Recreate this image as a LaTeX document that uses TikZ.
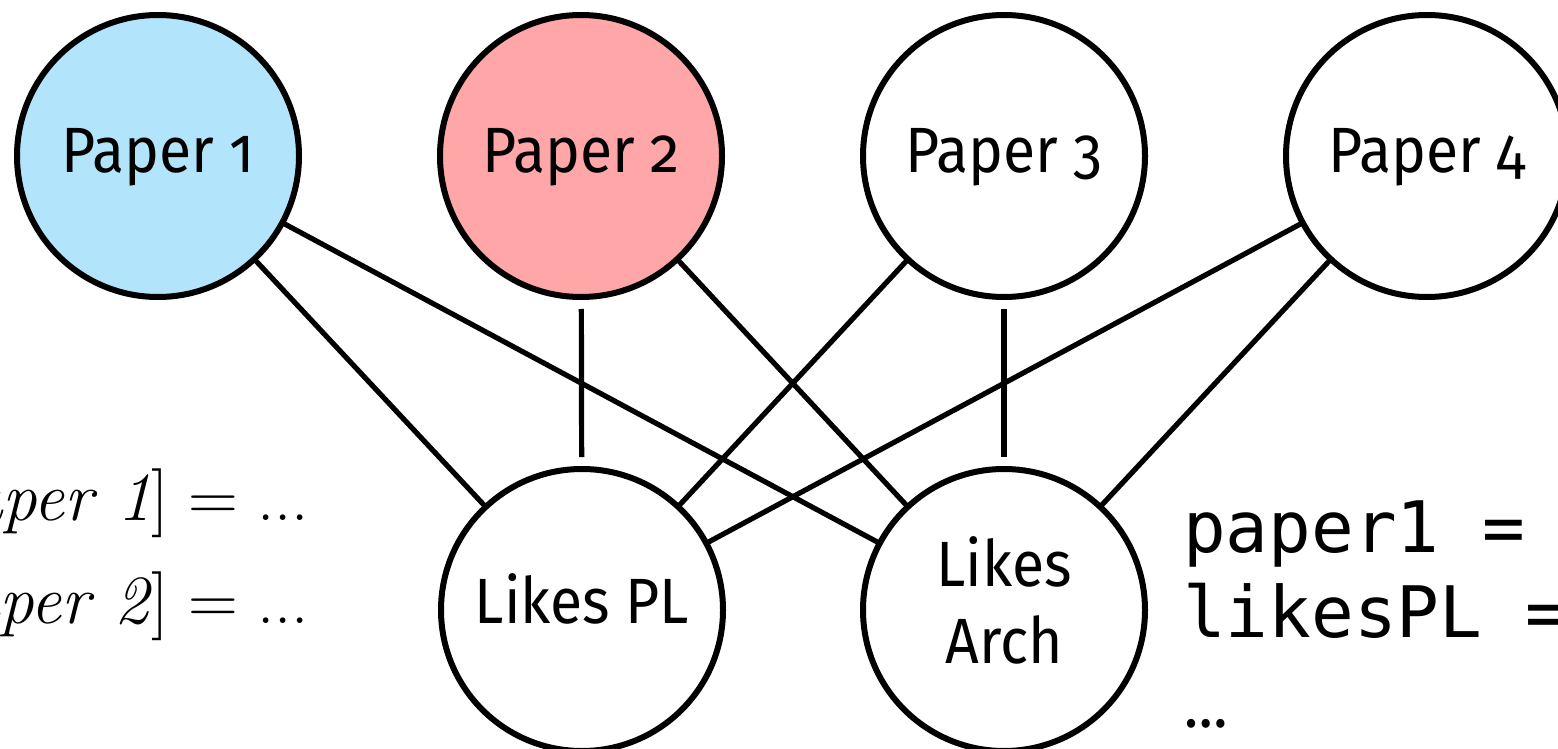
\documentclass[tikz,border=0pt]{standalone}
\usepackage{fontspec}
\setmainfont{Fira Sans}[Numbers=OldStyle, FakeStretch=0.92]
\newfontfamily\monofont{DejaVu Sans Mono}
\newfontfamily\lmfont{Latin Modern Roman}
\definecolor{pblue}{RGB}{178,229,252}
\definecolor{ppink}{RGB}{254,166,168}
\begin{document}
\begin{tikzpicture}[x=1pt,y=-1pt,
  circ/.style={circle, draw=black, line width=6pt, minimum size=282pt, inner sep=0pt, outer sep=0pt},
  lbl/.style={font=\fontsize{64}{77}\selectfont, inner sep=0pt, outer sep=0pt, anchor=base},
  edge/.style={line width=5.2pt},
  gapedge/.style={edge, shorten <=12pt, shorten >=12pt},
  mathlbl/.style={font=\lmfont\fontsize{69}{80}\selectfont, inner sep=0pt, anchor=base east},
  codelbl/.style={font=\monofont\fontsize{71}{85}\selectfont, inner sep=0pt, anchor=base west}]
\useasboundingbox (0,0) rectangle (1558,749);
% circles
\node[circ, fill=pblue] (p1) at (158,156) {};
\node[circ, fill=ppink] (p2) at (581,156) {};
\node[circ, fill=white] (p3) at (1004,156) {};
\node[circ, fill=white] (p4) at (1427,156) {};
\node[circ, fill=white] (lpl) at (582,610) {};
\node[circ, fill=white] (la) at (1004,610) {};
% labels
\node[lbl] (t1) at ([yshift=-16pt]p1.center) {Paper 1};
\node[lbl] (t2) at ([yshift=-16pt]p2.center) {Paper 2};
\node[lbl] (t3) at ([yshift=-16pt]p3.center) {Paper 3};
\node[lbl] (t4) at ([yshift=-16pt]p4.center) {Paper 4};
\node[lbl] (tpl) at ([yshift=-13pt]lpl.center) {Likes PL};
\node[lbl, anchor=center, align=center] (ta) at ([yshift=10pt]la.center) {Likes\\Arch};
% edges
\draw[edge] (p1) -- (lpl);
\draw[edge] (p1) -- (la);
\draw[gapedge] (p2) -- (lpl);
\draw[edge] (p2) -- (la);
\draw[edge] (p3) -- (lpl);
\draw[gapedge] (p3) -- (la);
\draw[edge] (p4) -- (lpl);
\draw[edge] (p4) -- (la);
% side texts
\node[mathlbl] (m1) at (309,520) {[\textit{paper 1}]\hspace{0.278em}=\hspace{0.278em}...};
\node[mathlbl] (m2) at (309,623) {[\textit{paper 2}]\hspace{0.278em}=\hspace{0.278em}...};
\node[codelbl] (c1) at (1183,552) {paper1 =};
\node[codelbl] (c2) at (1183,637) {likesPL =};
\node[lbl, anchor=base west] (c3) at (1184,727) {…};
\end{tikzpicture}
\end{document}
